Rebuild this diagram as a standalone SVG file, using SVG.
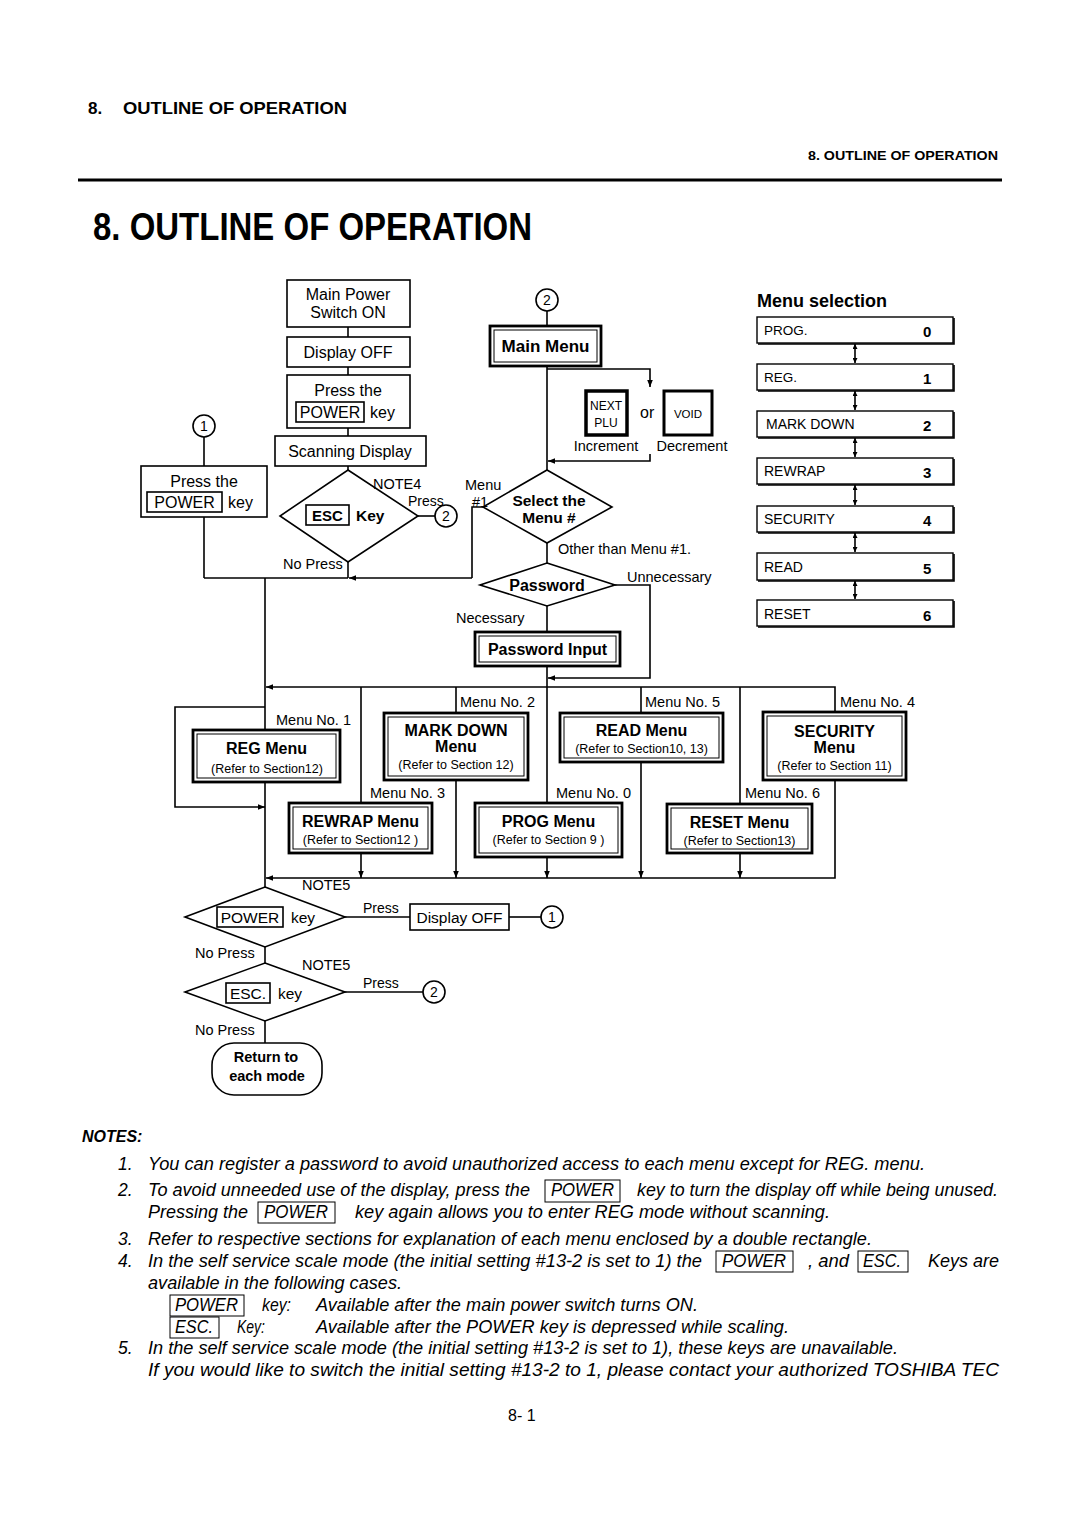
<svg xmlns="http://www.w3.org/2000/svg" width="1080" height="1528" viewBox="0 0 1080 1528">
<defs>
<style>
.t{font-family:"Liberation Sans",Arial,Helvetica,sans-serif;fill:#000}
.b{font-weight:bold}
.i{font-style:italic}
.c{text-anchor:middle}
.box{fill:#fff;stroke:#000;stroke-width:1.6}
.key{fill:none;stroke:#000;stroke-width:1.6}
.nk{fill:none;stroke:#000;stroke-width:1}
.ln{fill:none;stroke:#000;stroke-width:1.6}
.dbo{fill:#fff;stroke:#000;stroke-width:2.8}
.dbi{fill:none;stroke:#000;stroke-width:1}
.sel{fill:#fff;stroke:#000;stroke-width:1.4}
.shd{fill:none;stroke:#000;stroke-width:1.6}
</style>
<marker id="ah" viewBox="0 0 10 10" refX="10" refY="5" markerWidth="7" markerHeight="7" markerUnits="userSpaceOnUse" orient="auto"><path d="M0,1 L10,5 L0,9 z" fill="#000"/></marker>
<marker id="sa" viewBox="0 0 10 10" refX="10" refY="5" markerWidth="5" markerHeight="5" markerUnits="userSpaceOnUse" orient="auto-start-reverse"><path d="M0,0 L10,5 L0,10 z" fill="#000"/></marker>
</defs>
<rect width="1080" height="1528" fill="#fff"/>

<g id="header">
<text class="t b" x="88" y="114" font-size="17">8.</text>
<text class="t b" x="123" y="114" font-size="17" textLength="224" lengthAdjust="spacingAndGlyphs">OUTLINE OF OPERATION</text>
<text class="t b" x="808" y="160" font-size="12" textLength="190" lengthAdjust="spacingAndGlyphs">8. OUTLINE OF OPERATION</text>
<line x1="78" y1="180" x2="1002" y2="180" stroke="#000" stroke-width="3"/>
<text class="t b" x="93" y="240" font-size="38" textLength="439" lengthAdjust="spacingAndGlyphs">8. OUTLINE OF OPERATION</text>
</g>

<g id="connectors" class="ln">
<path d="M348,327 V337"/>
<path d="M348,367 V375"/>
<path d="M348,428 V436"/>
<path d="M348,466 V470"/>
<path d="M418,516 H435"/>
<path d="M348,562 V578"/>
<path d="M472,578 H349" marker-end="url(#ah)"/>
<path d="M348,578 H204"/>
<path d="M204,437 V466"/>
<path d="M204,517 V578"/>
<path d="M483,507 H472 V578"/>
<path d="M265,578 V730"/>
<path d="M547,311 V326"/>
<path d="M547,366 V470"/>
<path d="M547,369 H650 V387" marker-end="url(#ah)"/>
<path d="M650,454 V461 H548" marker-end="url(#ah)"/>
<path d="M547,543 V563"/>
<path d="M547,606 V632"/>
<path d="M615,585 H650 V678 H548" marker-end="url(#ah)"/>
<path d="M547,666 V803"/>
<path d="M547,687 H266" marker-end="url(#ah)"/>
<path d="M547,687 H835 V712"/>
<path d="M835,780 V878 H266" marker-end="url(#ah)"/>
<path d="M361,687 V803"/>
<path d="M361,853 V878" marker-end="url(#ah)"/>
<path d="M456,687 V713"/>
<path d="M456,780 V878" marker-end="url(#ah)"/>
<path d="M547,857 V878" marker-end="url(#ah)"/>
<path d="M641,687 V713"/>
<path d="M641,762 V878" marker-end="url(#ah)"/>
<path d="M740,687 V804"/>
<path d="M740,853 V878" marker-end="url(#ah)"/>
<path d="M265,782 V887"/>
<path d="M265,707 H175 V807 H265" marker-end="url(#ah)"/>
<path d="M345,917 H410"/>
<path d="M509,917 H541"/>
<path d="M265,947 V963"/>
<path d="M345,992 H423"/>
<path d="M265,1021 V1043"/>
<path d="M855,344 V363" marker-start="url(#sa)" marker-end="url(#sa)"/>
<path d="M855,391 V410" marker-start="url(#sa)" marker-end="url(#sa)"/>
<path d="M855,438 V457" marker-start="url(#sa)" marker-end="url(#sa)"/>
<path d="M855,485 V505" marker-start="url(#sa)" marker-end="url(#sa)"/>
<path d="M855,533 V552" marker-start="url(#sa)" marker-end="url(#sa)"/>
<path d="M855,581 V599" marker-start="url(#sa)" marker-end="url(#sa)"/>
</g>

<g id="main-power">
<rect class="box" x="287" y="280" width="123" height="47"/>
<text class="t c" x="348" y="300" font-size="16">Main Power</text>
<text class="t c" x="348" y="318" font-size="16">Switch ON</text>
</g>
<g id="display-off-1">
<rect class="box" x="287" y="337" width="123" height="30"/>
<text class="t c" x="348" y="358" font-size="16">Display OFF</text>
</g>
<g id="press-power-1">
<rect class="box" x="287" y="375" width="123" height="53"/>
<text class="t c" x="348" y="396" font-size="16">Press the</text>
<rect class="key" x="296" y="402" width="68" height="20"/>
<text class="t c" x="330" y="418" font-size="16">POWER</text>
<text class="t" x="370" y="418" font-size="16">key</text>
</g>
<g id="scanning-display">
<rect class="box" x="275" y="436" width="151" height="30"/>
<text class="t c" x="350" y="457" font-size="16">Scanning Display</text>
</g>
<g id="circle1-top">
<circle cx="204" cy="426" r="11" fill="#fff" stroke="#000" stroke-width="1.6"/>
<text class="t c" x="204" y="431" font-size="14">1</text>
</g>
<g id="press-power-2">
<rect class="box" x="141" y="466" width="126" height="51"/>
<text class="t c" x="204" y="487" font-size="16">Press the</text>
<rect class="key" x="147" y="492" width="75" height="20"/>
<text class="t c" x="184.5" y="508" font-size="16">POWER</text>
<text class="t" x="228" y="508" font-size="16">key</text>
</g>
<g id="esc-decision">
<polygon class="box" points="348,470 418,516 348,562 280,516"/>
<rect class="key" x="306" y="505" width="43" height="20" stroke-width="2.2"/>
<text class="t b c" x="327.5" y="521" font-size="15">ESC</text>
<text class="t b" x="356" y="521" font-size="15.5">Key</text>
<text class="t" x="373" y="489" font-size="14.5">NOTE4</text>
<text class="t" x="408" y="506" font-size="14">Press</text>
<text class="t" x="283" y="569" font-size="14.5">No Press</text>
</g>
<g id="circle2-esc">
<circle cx="446" cy="516" r="11" fill="#fff" stroke="#000" stroke-width="1.6"/>
<text class="t c" x="446" y="521" font-size="14">2</text>
</g>

<g id="circle2-main">
<circle cx="547" cy="300" r="11" fill="#fff" stroke="#000" stroke-width="1.6"/>
<text class="t c" x="547" y="305" font-size="14">2</text>
</g>
<g id="main-menu">
<rect class="dbo" x="490" y="326" width="111" height="40"/>
<rect class="dbi" x="494" y="330" width="103" height="32"/>
<text class="t b c" x="545.5" y="352" font-size="17">Main Menu</text>
</g>
<g id="next-plu">
<rect fill="#fff" stroke="#000" stroke-width="3.5" x="586" y="391" width="41" height="44"/>
<text class="t c" x="606" y="410" font-size="12">NEXT</text>
<text class="t c" x="606" y="427" font-size="12">PLU</text>
<text class="t" x="606" y="451" font-size="14.5" text-anchor="middle">Increment</text>
</g>
<text class="t" x="640" y="418" font-size="16">or</text>
<g id="void-key">
<rect fill="#fff" stroke="#000" stroke-width="3" x="664" y="391" width="48" height="44"/>
<text class="t c" x="688" y="418" font-size="11.5">VOID</text>
<text class="t c" x="692" y="451" font-size="14.5">Decrement</text>
</g>
<g id="select-menu">
<polygon class="box" points="547,470 612,507 547,543 483,507"/>
<text class="t b c" x="549" y="506" font-size="15.5">Select the</text>
<text class="t b c" x="549" y="523" font-size="15.5">Menu #</text>
<text class="t" x="465" y="490" font-size="14.5">Menu</text>
<text class="t" x="472" y="507" font-size="14.5">#1</text>
<text class="t" x="558" y="554" font-size="14.5">Other than Menu #1.</text>
</g>
<g id="password">
<polygon class="box" points="547,563 615,585 547,606 480,585"/>
<text class="t b c" x="547" y="591" font-size="16">Password</text>
<text class="t" x="627" y="582" font-size="14.5">Unnecessary</text>
<text class="t" x="456" y="623" font-size="14.5">Necessary</text>
</g>
<g id="password-input">
<rect class="dbo" x="475" y="632" width="145" height="34"/>
<rect class="dbi" x="479" y="636" width="137" height="26"/>
<text class="t b c" x="547.5" y="655" font-size="16">Password Input</text>
</g>

<g id="menu-selection">
<text class="t b" x="757" y="307" font-size="18">Menu selection</text>
<g id="sel-prog"><rect class="sel" x="757" y="317" width="196" height="26"/><path class="shd" d="M954,318 V344 H758"/><text class="t" x="764" y="335" font-size="13.5">PROG.</text><text class="t b" x="923" y="337" font-size="15">0</text></g>
<g id="sel-reg"><rect class="sel" x="757" y="364" width="196" height="26"/><path class="shd" d="M954,365 V391 H758"/><text class="t" x="764" y="382" font-size="13.5">REG.</text><text class="t b" x="923" y="384" font-size="15">1</text></g>
<g id="sel-markdown"><rect class="sel" x="757" y="411" width="196" height="26"/><path class="shd" d="M954,412 V438 H758"/><text class="t" x="766" y="429" font-size="14">MARK DOWN</text><text class="t b" x="923" y="431" font-size="15">2</text></g>
<g id="sel-rewrap"><rect class="sel" x="757" y="458" width="196" height="26"/><path class="shd" d="M954,459 V485 H758"/><text class="t" x="764" y="476" font-size="14">REWRAP</text><text class="t b" x="923" y="478" font-size="15">3</text></g>
<g id="sel-security"><rect class="sel" x="757" y="506" width="196" height="26"/><path class="shd" d="M954,507 V533 H758"/><text class="t" x="764" y="524" font-size="14">SECURITY</text><text class="t b" x="923" y="526" font-size="15">4</text></g>
<g id="sel-read"><rect class="sel" x="757" y="553" width="196" height="27"/><path class="shd" d="M954,554 V581 H758"/><text class="t" x="764" y="572" font-size="14">READ</text><text class="t b" x="923" y="574" font-size="15">5</text></g>
<g id="sel-reset"><rect class="sel" x="757" y="600" width="196" height="26"/><path class="shd" d="M954,601 V627 H758"/><text class="t" x="764" y="619" font-size="14">RESET</text><text class="t b" x="923" y="621" font-size="15">6</text></g>
</g>

<g id="reg-menu">
<rect class="dbo" x="193" y="730" width="147" height="52"/>
<rect class="dbi" x="197" y="734" width="139" height="44"/>
<text class="t b c" x="266.5" y="754" font-size="16">REG Menu</text>
<text class="t c" x="267" y="773" font-size="12.5">(Refer to Section12)</text>
<text class="t" x="276" y="725" font-size="14.5">Menu No. 1</text>
</g>
<g id="markdown-menu">
<rect class="dbo" x="384" y="713" width="144" height="67"/>
<rect class="dbi" x="388" y="717" width="136" height="59"/>
<text class="t b c" x="456" y="736" font-size="16">MARK DOWN</text>
<text class="t b c" x="456" y="752" font-size="16">Menu</text>
<text class="t c" x="456" y="769" font-size="12.5">(Refer to Section 12)</text>
<text class="t" x="460" y="707" font-size="14.5">Menu No. 2</text>
</g>
<g id="read-menu">
<rect class="dbo" x="560" y="713" width="163" height="49"/>
<rect class="dbi" x="564" y="717" width="155" height="41"/>
<text class="t b c" x="641.5" y="736" font-size="16">READ Menu</text>
<text class="t c" x="641.5" y="753" font-size="12.5">(Refer to Section10, 13)</text>
<text class="t" x="645" y="707" font-size="14.5">Menu No. 5</text>
</g>
<g id="security-menu">
<rect class="dbo" x="763" y="712" width="143" height="68"/>
<rect class="dbi" x="767" y="716" width="135" height="60"/>
<text class="t b c" x="834.5" y="737" font-size="16">SECURITY</text>
<text class="t b c" x="834.5" y="753" font-size="16">Menu</text>
<text class="t c" x="834.5" y="770" font-size="12.5">(Refer to Section 11)</text>
<text class="t" x="840" y="707" font-size="14.5">Menu No. 4</text>
</g>
<g id="rewrap-menu">
<rect class="dbo" x="289" y="803" width="143" height="50"/>
<rect class="dbi" x="293" y="807" width="135" height="42"/>
<text class="t b c" x="360.5" y="827" font-size="16">REWRAP Menu</text>
<text class="t c" x="360.5" y="844" font-size="12.5">(Refer to Section12 )</text>
<text class="t" x="370" y="798" font-size="14.5">Menu No. 3</text>
</g>
<g id="prog-menu">
<rect class="dbo" x="475" y="803" width="147" height="54"/>
<rect class="dbi" x="479" y="807" width="139" height="46"/>
<text class="t b c" x="548.5" y="827" font-size="16">PROG Menu</text>
<text class="t c" x="548.5" y="844" font-size="12.5">(Refer to Section  9 )</text>
<text class="t" x="556" y="798" font-size="14.5">Menu No. 0</text>
</g>
<g id="reset-menu">
<rect class="dbo" x="667" y="804" width="145" height="49"/>
<rect class="dbi" x="671" y="808" width="137" height="41"/>
<text class="t b c" x="739.5" y="828" font-size="16">RESET Menu</text>
<text class="t c" x="739.5" y="845" font-size="12.5">(Refer to Section13)</text>
<text class="t" x="745" y="798" font-size="14.5">Menu No. 6</text>
</g>

<g id="power-decision">
<polygon class="box" points="265,887 345,917 265,947 185,917"/>
<rect class="key" x="217" y="907" width="66" height="20" stroke-width="2"/>
<text class="t c" x="250" y="923" font-size="15.5">POWER</text>
<text class="t" x="291" y="923" font-size="15.5">key</text>
<text class="t" x="302" y="890" font-size="14.5">NOTE5</text>
<text class="t" x="363" y="913" font-size="14">Press</text>
<text class="t" x="195" y="958" font-size="14.5">No Press</text>
</g>
<g id="display-off-2">
<rect class="box" x="410" y="904" width="99" height="26"/>
<text class="t c" x="459.5" y="923" font-size="15.5">Display OFF</text>
</g>
<g id="circle1-bottom">
<circle cx="552" cy="917" r="11" fill="#fff" stroke="#000" stroke-width="1.6"/>
<text class="t c" x="552" y="922" font-size="14">1</text>
</g>
<g id="esc-decision-2">
<polygon class="box" points="265,963 345,992 265,1021 185,992"/>
<rect class="key" x="226" y="983" width="44" height="20" stroke-width="2"/>
<text class="t c" x="248" y="999" font-size="15.5">ESC.</text>
<text class="t" x="278" y="999" font-size="15.5">key</text>
<text class="t" x="302" y="970" font-size="14.5">NOTE5</text>
<text class="t" x="363" y="988" font-size="14">Press</text>
<text class="t" x="195" y="1035" font-size="14.5">No Press</text>
</g>
<g id="circle2-bottom">
<circle cx="434" cy="992" r="11" fill="#fff" stroke="#000" stroke-width="1.6"/>
<text class="t c" x="434" y="997" font-size="14">2</text>
</g>
<g id="return-mode">
<rect class="box" x="212" y="1043" width="110" height="52" rx="22"/>
<text class="t b c" x="266" y="1062" font-size="14.5">Return to</text>
<text class="t b c" x="267" y="1081" font-size="14.5">each mode</text>
</g>

<g id="notes" class="t i" font-size="17.5">
<text class="b" x="82" y="1142" font-size="16">NOTES:</text>
<text x="118" y="1170">1.</text>
<text x="148" y="1170" textLength="777" lengthAdjust="spacingAndGlyphs">You can register a password to avoid unauthorized access to each menu except for REG. menu.</text>
<text x="118" y="1196">2.</text>
<text x="148" y="1196" textLength="382" lengthAdjust="spacingAndGlyphs">To avoid unneeded use of the display, press the</text>
<rect class="nk" x="545" y="1180" width="75" height="22"/>
<text x="551" y="1196" textLength="63" lengthAdjust="spacingAndGlyphs">POWER</text>
<text x="637" y="1196" textLength="361" lengthAdjust="spacingAndGlyphs">key to turn the display off while being unused.</text>
<text x="148" y="1218" textLength="100" lengthAdjust="spacingAndGlyphs">Pressing the</text>
<rect class="nk" x="258" y="1202" width="77" height="21"/>
<text x="264" y="1218" textLength="64" lengthAdjust="spacingAndGlyphs">POWER</text>
<text x="355" y="1218" textLength="475" lengthAdjust="spacingAndGlyphs">key again allows you to enter REG mode without scanning.</text>
<text x="118" y="1245">3.</text>
<text x="148" y="1245" textLength="724" lengthAdjust="spacingAndGlyphs">Refer to respective sections for explanation of each menu enclosed by a double rectangle.</text>
<text x="118" y="1267">4.</text>
<text x="148" y="1267" textLength="554" lengthAdjust="spacingAndGlyphs">In the self service scale mode (the initial setting #13-2 is set to 1) the</text>
<rect class="nk" x="716" y="1251" width="77" height="21"/>
<text x="722" y="1267" textLength="64" lengthAdjust="spacingAndGlyphs">POWER</text>
<text x="808" y="1267" textLength="41" lengthAdjust="spacingAndGlyphs">, and</text>
<rect class="nk" x="858" y="1251" width="50" height="21"/>
<text x="863" y="1267" textLength="38" lengthAdjust="spacingAndGlyphs">ESC.</text>
<text x="928" y="1267" textLength="71" lengthAdjust="spacingAndGlyphs">Keys are</text>
<text x="148" y="1289" textLength="254" lengthAdjust="spacingAndGlyphs">available in the following cases.</text>
<rect class="nk" x="170" y="1295" width="74" height="21"/>
<text x="175" y="1311" textLength="63" lengthAdjust="spacingAndGlyphs">POWER</text>
<text x="262" y="1311" textLength="29" lengthAdjust="spacingAndGlyphs">key:</text>
<text x="316" y="1311" textLength="382" lengthAdjust="spacingAndGlyphs">Available after the main power switch turns ON.</text>
<rect class="nk" x="170" y="1317" width="49" height="21"/>
<text x="175" y="1333" textLength="38" lengthAdjust="spacingAndGlyphs">ESC.</text>
<text x="237" y="1333" textLength="28" lengthAdjust="spacingAndGlyphs">Key:</text>
<text x="316" y="1333" textLength="473" lengthAdjust="spacingAndGlyphs">Available after the POWER key is depressed while scaling.</text>
<text x="118" y="1354">5.</text>
<text x="148" y="1354" textLength="750" lengthAdjust="spacingAndGlyphs">In the self service scale mode (the initial setting #13-2 is set to 1), these keys are unavailable.</text>
<text x="148" y="1376" textLength="851" lengthAdjust="spacingAndGlyphs">If you would like to switch the initial setting #13-2 to 1, please contact your authorized TOSHIBA TEC</text>
</g>
<text class="t" x="508" y="1421" font-size="16">8- 1</text>
</svg>
